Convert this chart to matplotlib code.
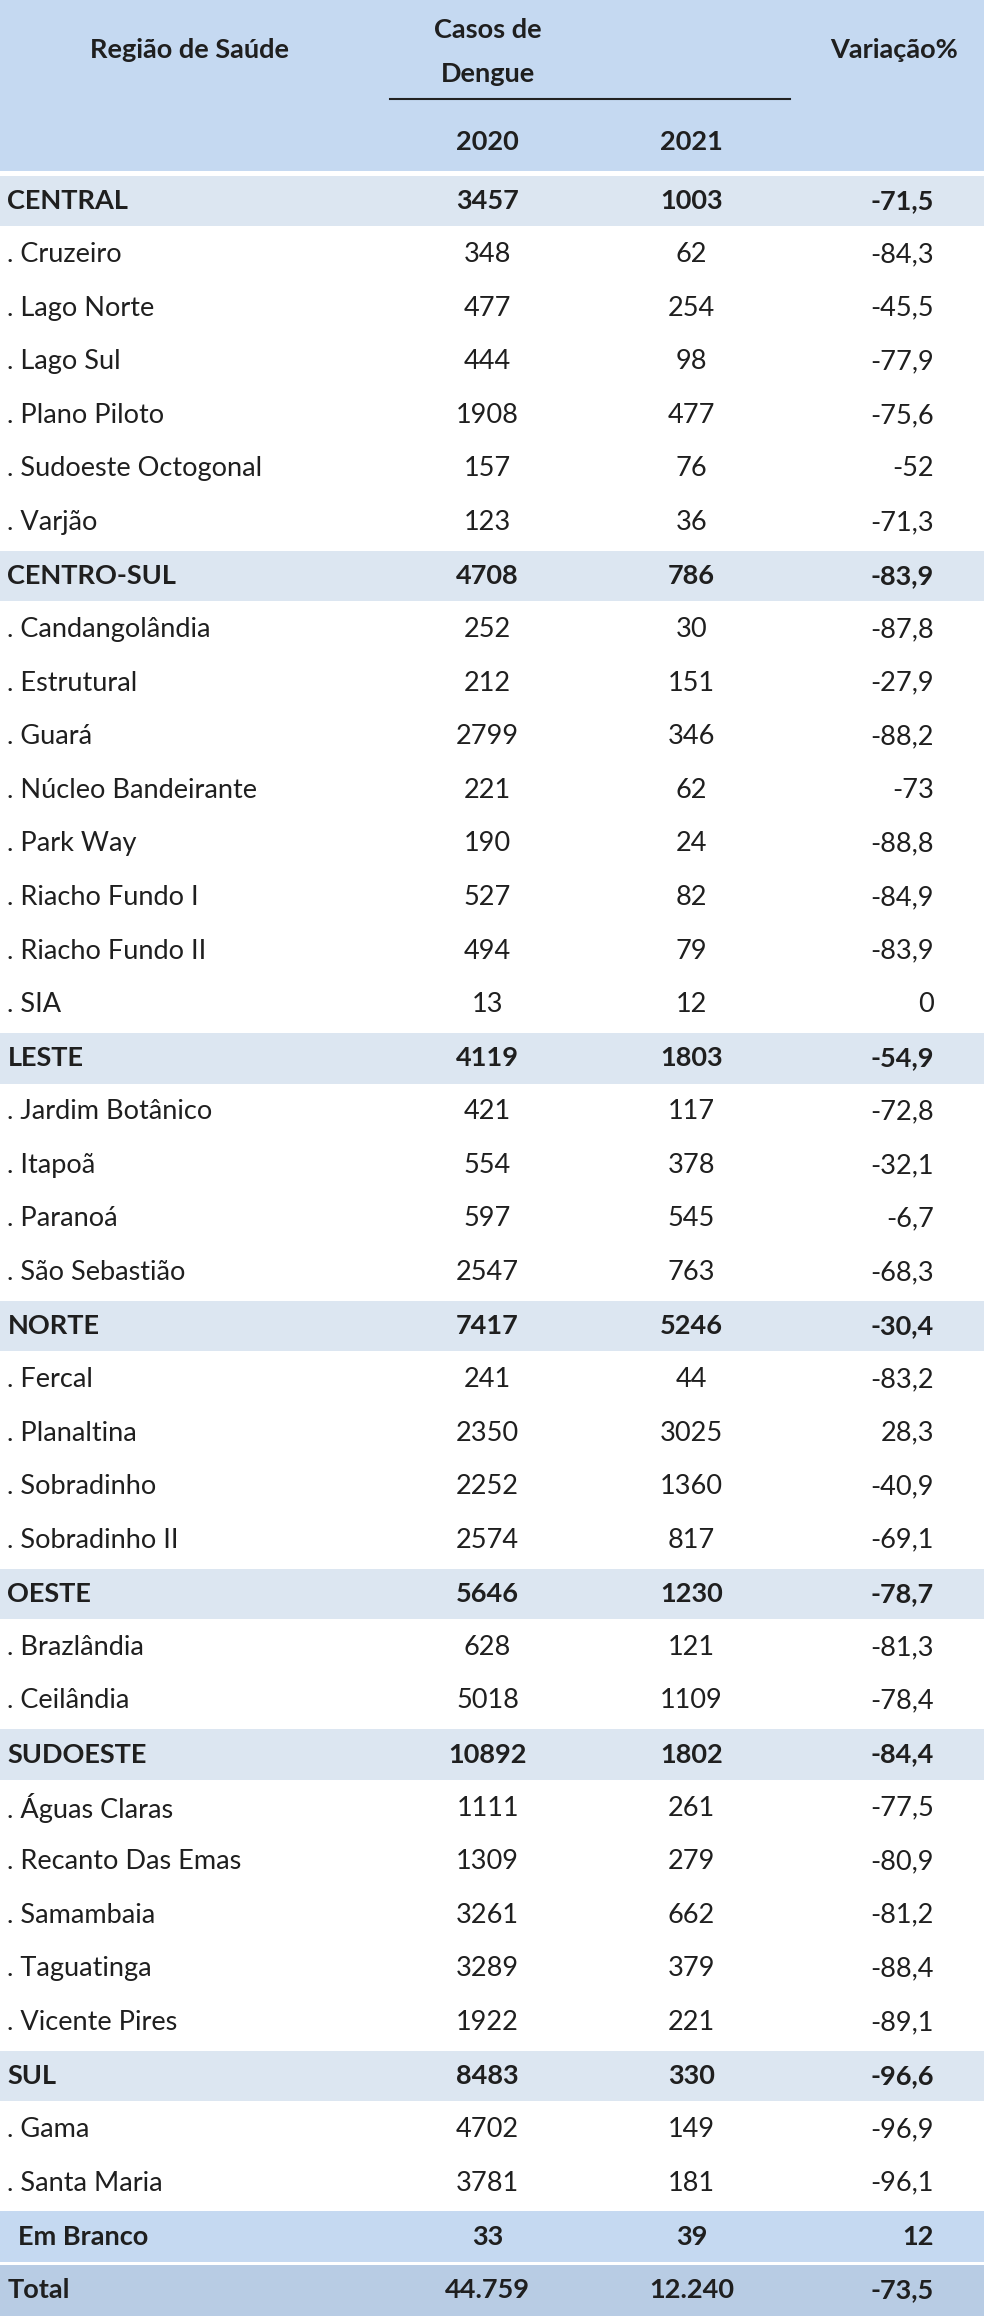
import matplotlib
matplotlib.use("Agg")
import matplotlib.pyplot as plt
from matplotlib.patches import Rectangle

labels = ["CENTRAL", ". Cruzeiro", ". Lago Norte", ". Lago Sul", ". Plano Piloto", ". Sudoeste Octogonal", ". Varjão",
          "CENTRO-SUL", ". Candangolândia", ". Estrutural", ". Guará", ". Núcleo Bandeirante", ". Park Way",
          ". Riacho Fundo I", ". Riacho Fundo II", ". SIA",
          "LESTE", ". Jardim Botânico", ". Itapoã", ". Paranoá", ". São Sebastião",
          "NORTE", ". Fercal", ". Planaltina", ". Sobradinho", ". Sobradinho II",
          "OESTE", ". Brazlândia", ". Ceilândia",
          "SUDOESTE", ". Águas Claras", ". Recanto Das Emas", ". Samambaia", ". Taguatinga", ". Vicente Pires",
          "SUL", ". Gama", ". Santa Maria",
          "Em Branco", "Total"]
cases_2020 = ["3457", "348", "477", "444", "1908", "157", "123",
              "4708", "252", "212", "2799", "221", "190", "527", "494", "13",
              "4119", "421", "554", "597", "2547",
              "7417", "241", "2350", "2252", "2574",
              "5646", "628", "5018",
              "10892", "1111", "1309", "3261", "3289", "1922",
              "8483", "4702", "3781",
              "33", "44.759"]
cases_2021 = ["1003", "62", "254", "98", "477", "76", "36",
              "786", "30", "151", "346", "62", "24", "82", "79", "12",
              "1803", "117", "378", "545", "763",
              "5246", "44", "3025", "1360", "817",
              "1230", "121", "1109",
              "1802", "261", "279", "662", "379", "221",
              "330", "149", "181",
              "39", "12.240"]
variation = ["-71,5", "-84,3", "-45,5", "-77,9", "-75,6", "-52", "-71,3",
             "-83,9", "-87,8", "-27,9", "-88,2", "-73", "-88,8", "-84,9", "-83,9", "0",
             "-54,9", "-72,8", "-32,1", "-6,7", "-68,3",
             "-30,4", "-83,2", "28,3", "-40,9", "-69,1",
             "-78,7", "-81,3", "-78,4",
             "-84,4", "-77,5", "-80,9", "-81,2", "-88,4", "-89,1",
             "-96,6", "-96,9", "-96,1",
             "12", "-73,5"]

W, H = 666, 1568
fig = plt.figure(figsize=(9.84, 23.17), dpi=100)
ax = fig.add_axes([0, 0, 1, 1])
ax.set_xlim(0, W); ax.set_ylim(H, 0); ax.axis("off")
plt.rcParams["font.family"] = "Lato"
FS = 19.5
HEAD = "#c5d9f1"; REG = "#dce6f1"; TOT = "#b8cce4"

ax.add_patch(Rectangle((0, 0), W, 116, color=HEAD, lw=0))
ax.text(128, 34, "Região de Saúde", ha="center", va="center", fontsize=FS, weight="bold", color="#1f1f1f")
ax.text(330, 20, "Casos de", ha="center", va="center", fontsize=FS, weight="bold", color="#1f1f1f")
ax.text(330, 50, "Dengue", ha="center", va="center", fontsize=FS, weight="bold", color="#1f1f1f")
ax.plot([264, 535], [67, 67], color="#222", lw=1.5)
ax.text(330, 96, "2020", ha="center", va="center", fontsize=FS, weight="bold", color="#1f1f1f")
ax.text(468, 96, "2021", ha="center", va="center", fontsize=FS, weight="bold", color="#1f1f1f")
ax.text(605, 34, "Variação%", ha="center", va="center", fontsize=FS, weight="bold", color="#1f1f1f")

y0 = 118; rh = (H - y0) / len(labels)
for i, lab in enumerate(labels):
    y = y0 + i * rh
    region = not lab.startswith(".")
    if region:
        col = TOT if lab == "Total" else (HEAD if lab == "Em Branco" else REG)
        ax.add_patch(Rectangle((0, y + 1), W, rh - 2, color=col, lw=0))
    wt = "bold" if region else "normal"
    cy = y + rh / 2
    xl = 12 if lab == "Em Branco" else 5
    ax.text(xl, cy, lab, ha="left", va="center", fontsize=FS, weight=wt, color="#1f1f1f")
    ax.text(330, cy, cases_2020[i], ha="center", va="center", fontsize=FS, weight=wt, color="#1f1f1f")
    ax.text(468, cy, cases_2021[i], ha="center", va="center", fontsize=FS, weight=wt, color="#1f1f1f")
    ax.text(632, cy, variation[i], ha="right", va="center", fontsize=FS, weight=wt, color="#1f1f1f")

fig.savefig("out.png", dpi=100)
